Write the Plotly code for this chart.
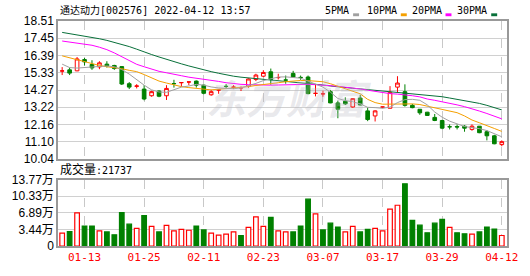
import plotly.graph_objects as go

dates = ["01-10","01-11","01-12","01-13","01-14","01-17","01-18","01-19","01-20","01-21",
         "01-24","01-25","01-26","01-27","01-28","02-07","02-08","02-09","02-10","02-11",
         "02-14","02-15","02-16","02-17","02-18","02-21","02-22","02-23","02-24","02-25",
         "02-28","03-01","03-02","03-03","03-04","03-07","03-08","03-09","03-10","03-11",
         "03-14","03-15","03-16","03-17","03-18","03-21","03-22","03-23","03-24","03-25",
         "03-28","03-29","03-30","03-31","04-01","04-06","04-07","04-08","04-11","04-12"]

opens = [15.43,15.51,15.45,16.14,15.84,15.69,15.86,15.78,15.71,14.66,
         14.50,14.33,13.92,14.21,13.92,14.67,14.72,14.76,14.82,14.57,
         13.98,14.27,14.50,14.44,14.40,14.51,14.92,15.12,15.39,15.03,
         14.89,15.29,15.05,15.07,14.06,14.03,14.17,13.48,13.58,13.23,
         13.78,12.99,12.68,13.22,13.15,14.45,14.17,13.33,13.09,12.91,
         12.59,12.40,12.02,12.03,12.05,11.85,12.05,11.71,11.46,10.92]
highs = [15.68,15.65,16.30,16.24,16.10,16.04,16.04,15.82,15.72,14.76,
         14.63,14.57,14.23,14.25,14.57,14.90,14.73,14.77,14.86,14.61,
         14.29,14.28,14.63,14.57,14.49,14.99,15.27,15.49,15.59,15.27,
         15.16,15.45,15.16,15.16,14.64,14.23,14.27,13.62,13.82,13.78,
         13.98,13.19,13.03,13.24,14.51,15.12,14.62,13.42,13.09,12.93,
         12.80,12.44,12.16,12.16,12.11,12.16,12.05,11.81,11.52,11.18]
lows = [15.19,15.19,15.43,15.78,15.51,15.55,15.65,15.51,14.58,14.33,
        14.37,13.64,13.86,13.83,13.66,14.42,14.47,14.57,14.42,14.01,
        13.92,14.04,14.33,14.33,14.21,14.41,14.82,15.06,14.60,14.92,
        14.66,15.04,14.90,14.01,13.88,13.86,13.46,12.54,13.35,13.19,
        13.33,12.36,12.34,13.15,13.15,14.13,13.25,13.15,12.75,12.69,
        12.36,11.87,11.85,11.85,11.71,11.77,11.62,11.18,10.94,10.82]
closes = [15.45,15.31,16.18,16.00,15.63,15.94,15.75,15.59,14.64,14.45,
          14.52,13.72,14.17,13.89,14.37,14.66,14.73,14.77,14.57,14.07,
          14.17,14.28,14.49,14.45,14.41,14.95,15.19,15.35,14.92,15.04,
          14.88,15.07,15.04,14.05,14.07,14.04,13.48,13.09,13.42,13.74,
          13.35,12.46,12.99,13.23,14.13,14.70,13.33,13.19,12.87,12.71,
          12.40,11.93,12.01,12.00,11.93,12.05,11.65,11.46,10.97,11.10]

ma5 = [15.86,15.65,15.62,15.65,15.68,15.72,15.75,15.70,15.53,15.25,
       14.90,14.57,14.28,14.15,14.13,14.28,14.45,14.52,14.62,14.57,
       14.46,14.40,14.36,14.35,14.40,14.52,14.68,14.85,14.95,15.07,
       15.08,15.05,15.00,14.82,14.62,14.45,14.14,13.75,13.62,13.55,
       13.42,13.21,13.19,13.15,13.22,13.50,13.68,13.70,13.64,13.36,
       12.92,12.60,12.36,12.18,12.03,11.96,11.90,11.78,11.58,11.40]
ma10 = [16.37,16.25,16.12,15.98,15.86,15.78,15.70,15.65,15.58,15.48,
        15.40,15.22,15.00,14.82,14.70,14.58,14.48,14.42,14.36,14.32,
        14.28,14.32,14.36,14.40,14.42,14.48,14.55,14.62,14.66,14.72,
        14.78,14.83,14.86,14.85,14.82,14.78,14.66,14.50,14.36,14.22,
        14.04,13.70,13.50,13.40,13.40,13.44,13.43,13.42,13.38,13.28,
        13.18,13.10,13.00,12.88,12.68,12.43,12.26,12.10,11.91,11.73]
ma20 = [17.28,17.22,17.17,17.12,17.02,16.90,16.75,16.55,16.30,16.05,
        15.85,15.70,15.55,15.42,15.33,15.22,15.15,15.06,15.00,14.95,
        14.90,14.80,14.72,14.66,14.62,14.60,14.58,14.57,14.57,14.58,
        14.60,14.62,14.63,14.62,14.60,14.58,14.55,14.50,14.44,14.40,
        14.34,14.26,14.18,14.10,14.05,14.02,13.98,13.92,13.85,13.72,
        13.64,13.56,13.46,13.36,13.25,13.13,12.98,12.83,12.67,12.50]
ma30 = [17.81,17.74,17.66,17.58,17.50,17.42,17.32,17.20,17.08,16.94,
        16.78,16.60,16.45,16.30,16.15,16.00,15.88,15.75,15.62,15.50,
        15.40,15.30,15.20,15.12,15.06,15.02,14.98,14.94,14.90,14.86,
        14.82,14.78,14.74,14.70,14.64,14.58,14.52,14.46,14.42,14.38,
        14.34,14.30,14.26,14.22,14.18,14.14,14.10,14.06,14.02,13.97,
        13.92,13.86,13.78,13.70,13.62,13.55,13.45,13.33,13.20,13.05]

volumes = [26700,29800,68400,41200,41200,31200,29200,23300,69000,45200,
           36600,63100,40600,29200,42600,31200,34600,32600,41200,33200,
           26700,22700,24700,29200,21300,38600,60500,40600,59100,31200,
           29200,29200,41200,96900,66400,33200,47200,39200,29200,40600,
           29200,34600,36600,31200,76400,84400,128700,53100,43200,27300,
           47200,55100,38600,27300,25300,24700,29200,39200,35200,21737]
vol_up = [1,0,1,0,0,1,0,0,0,0,
          1,0,1,0,1,1,1,1,0,0,
          1,1,1,1,0,1,1,1,0,1,
          1,0,0,0,1,0,0,0,1,1,
          0,0,1,1,1,1,0,0,0,0,
          0,0,1,0,0,1,0,0,0,1]

price_ticks = [10.04, 11.10, 12.16, 13.22, 14.27, 15.33, 16.39, 17.45, 18.51]
price_labels = ["10.04", "11.10", "12.16", "13.22", "14.27", "15.33", "16.39", "17.45", "18.51"]
vol_ticks = [0, 34425, 68850, 103275, 137700]
vol_labels = ["0", "3.44万", "6.89万", "10.33万", "13.77万"]
date_ticks = ["01-13", "01-25", "02-11", "02-23", "03-07", "03-17", "03-29", "04-12"]

RED = "#ff0000"
GREEN = "#008000"
ma_names = ["5PMA", "10PMA", "20PMA", "30PMA"]
ma_colors = ["#a0a0a0", "#f5a000", "#ff00ff", "#08703a"]

fig = go.Figure()

fig.add_trace(go.Candlestick(
    x=dates, open=opens, high=highs, low=lows, close=closes,
    increasing=dict(line=dict(color=RED, width=1), fillcolor="#ffffff"),
    decreasing=dict(line=dict(color=GREEN, width=1), fillcolor=GREEN),
    whiskerwidth=0, xaxis="x", yaxis="y", showlegend=False, hoverinfo="skip"))

for vals, col in zip([ma30, ma20, ma10, ma5], ma_colors[::-1]):
    fig.add_trace(go.Scatter(x=dates, y=vals, mode="lines",
                             line=dict(color=col, width=1), xaxis="x", yaxis="y",
                             showlegend=False, hoverinfo="skip"))

fig.add_trace(go.Bar(
    x=dates, y=volumes, width=0.62,
    marker=dict(color=["#ffffff" if u else GREEN for u in vol_up],
                line=dict(color=[RED if u else GREEN for u in vol_up], width=1.2)),
    xaxis="x2", yaxis="y2", showlegend=False, hoverinfo="skip"))

xcommon = dict(type="category", range=[-0.56, 59.7], tickmode="array", tickvals=date_ticks,
               showgrid=True, gridcolor="#c8c8c8", griddash="dash", gridwidth=1,
               showline=True, linecolor="#999999", linewidth=1.5, mirror=True,
               ticks="", zeroline=False, fixedrange=True)

fig.update_layout(
    width=530, height=276,
    margin=dict(l=56, r=22, t=21, b=20),
    paper_bgcolor="#ffffff", plot_bgcolor="#ffffff",
    font=dict(family="Liberation Sans, Arial, sans-serif", size=12, color="#000000"),
    xaxis=dict(domain=[0, 1], anchor="y", showticklabels=False,
               rangeslider=dict(visible=False), **xcommon),
    xaxis2=dict(domain=[0, 1], anchor="y2", matches="x", showticklabels=True,
                tickfont=dict(family="DejaVu Sans Mono, monospace", size=11, color=RED),
                **xcommon),
    yaxis=dict(domain=[0.387, 1], range=[10.04, 18.51], tickmode="array",
               tickvals=price_ticks, ticktext=price_labels,
               showgrid=True, gridcolor="#d0d0d0", gridwidth=1,
               showline=True, linecolor="#999999", linewidth=1.5, mirror=True,
               ticks="", zeroline=False, fixedrange=True,
               tickfont=dict(family="Liberation Sans, Arial", size=12, color="#000000")),
    yaxis2=dict(domain=[0, 0.2955], range=[0, 137700], tickmode="array",
                tickvals=vol_ticks, ticktext=vol_labels,
                showgrid=True, gridcolor="#d0d0d0", gridwidth=1,
                showline=True, linecolor="#999999", linewidth=1.5, mirror=True,
                ticks="", zeroline=False, fixedrange=True,
                tickfont=dict(family="Liberation Sans, Noto Sans CJK SC", size=12, color="#000000")),
)

annotations = [
    dict(text="<b><i>东方财富</i></b>", xref="paper", yref="paper", x=0.515, y=0.80,
         showarrow=False,
         font=dict(family="Noto Sans CJK SC", size=40, color="rgba(185,185,195,0.32)")),
    dict(text="<span style='font-family:Noto Sans CJK SC'>通达动力</span>[002576] 2022-04-12 13:57",
         xref="paper", yref="paper", x=0.0, y=1.0, xanchor="left", yanchor="bottom",
         yshift=2, showarrow=False,
         font=dict(family="DejaVu Sans Mono, monospace", size=10, color="#000000")),
    dict(text="<span style='font-family:Noto Sans CJK SC;font-size:12px'>成交量</span>:21737",
         xref="paper", yref="paper", x=0.0, y=0.2955, xanchor="left", yanchor="bottom",
         yshift=1, showarrow=False,
         font=dict(family="DejaVu Sans Mono, monospace", size=10, color="#000000")),
]
legend_x = [323, 365, 410, 456]
shapes = []
for name, col, lx in zip(ma_names, ma_colors, legend_x):
    annotations.append(dict(text=name, xref="paper", yref="paper",
                            x=(lx - 56) / 452, y=1.0, xanchor="left", yanchor="bottom",
                            yshift=3, showarrow=False,
                            font=dict(family="DejaVu Sans Mono, monospace", size=10, color="#000000")))
    w = 6.02 * len(name)
    x0 = (lx - 56 + w + 6) / 452
    shapes.append(dict(type="rect", xref="paper", yref="paper",
                       x0=x0, x1=x0 + 6 / 452, y0=1 + 5 / 235, y1=1 + 8 / 235,
                       fillcolor=col, line=dict(width=0)))
fig.update_layout(annotations=annotations, shapes=shapes)

fig.write_html("out.html")
